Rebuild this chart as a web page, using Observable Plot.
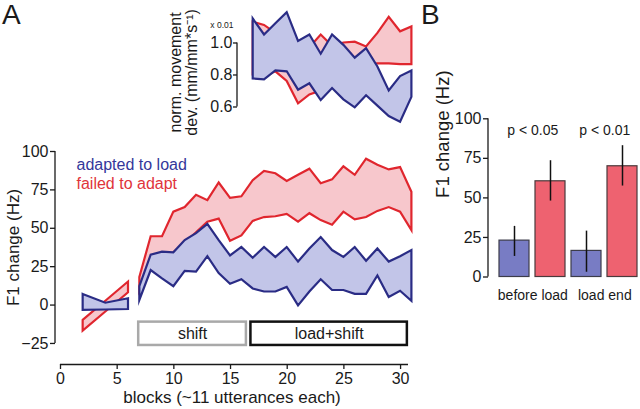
<!DOCTYPE html>
<html>
<head>
<meta charset="utf-8">
<script src="https://cdn.jsdelivr.net/npm/d3@7"></script>
<script src="https://cdn.jsdelivr.net/npm/@observablehq/plot@0.6"></script>
<style>
  html, body { margin: 0; padding: 0; background: #fff; }
  #fig { position: relative; width: 640px; height: 409px; overflow: hidden; background: #fff;
         font-family: "Liberation Sans", Arial, Helvetica, sans-serif; color: #1a1a1a; }
  .letter { position: absolute; font-size: 28px; line-height: 30px; }
</style>
</head>
<body>
<div id="fig">
  <div class="letter" style="left:2px;top:0px">A</div>
  <div class="letter" style="left:421px;top:0px">B</div>
</div>
<script>
// ---------------- data: panel A, F1 change (Hz) ----------------
const baseBlocks = [2, 4, 6];
const baseAdaptedLow  = [-3.5, -3.2, -2.9];
const baseAdaptedHigh = [6.9, 1.2, 4.1];
const baseFailedLow   = [-17, -4.5, 8];
const baseFailedHigh  = [-10, 2.5, 15];

const shiftBlocks = [7, 8, 9, 10, 11, 12, 13, 14, 15, 16, 17, 18, 19, 20, 21, 22, 23, 24, 25, 26, 27, 28, 29, 30, 31];
const adaptedLow  = [3, 22.5, 17, 12, 22, 21.5, 31.5, 20.5, 13.5, 16.5, 10.5, 8.5, 8.5, 11.5, -0.5, 8.5, 16.5, 9.5, 9.5, 7, 7, 19, 5, 9, 2.5];
const adaptedHigh = [12, 32.5, 34.5, 34, 42, 46.5, 52.5, 42, 32, 37.5, 30.5, 37.5, 31, 37.5, 28, 36.5, 44, 35.5, 31, 37.5, 28.5, 36.5, 28, 31.5, 35.5];
const failedLow   = [9, 25, 30, 34, 40, 47, 54, 56, 41.5, 45, 54.5, 57, 57.5, 59, 54, 59.5, 55, 52, 60.5, 55.5, 57, 61, 63.5, 60.5, 48.5];
const failedHigh  = [18, 44.5, 44.5, 60.5, 63.5, 71.5, 68, 79.5, 69.5, 70.5, 81, 87, 85.5, 80.5, 84.5, 88.5, 79, 81.5, 90, 84.5, 95, 91, 88, 89.5, 73.5];

// inset: normalised movement deviation (x 0.01)
const movBlocks = [17, 18, 19, 20, 21, 22, 23, 24, 25, 26, 27, 28, 29, 30, 31];
const movAdaptedLow  = [0.775, 0.77, 0.825, 0.82, 0.705, 0.745, 0.64, 0.715, 0.645, 0.595, 0.67, 0.605, 0.54, 0.505, 0.66];
const movAdaptedHigh = [1.15, 1.05, 1.12, 1.19, 1.01, 1.05, 0.93, 1.05, 0.985, 0.905, 0.965, 0.85, 0.70, 0.79, 0.825];
const movFailedLow   = [0.80, 0.79, 0.82, 0.76, 0.62, 0.675, 0.70, 0.80, 0.82, 0.84, 0.86, 0.87, 0.87, 0.865, 0.865];
const movFailedHigh  = [1.13, 1.11, 1.06, 1.03, 0.99, 0.97, 1.05, 0.98, 1.0, 1.005, 0.975, 1.06, 1.16, 1.07, 1.10];

const phaseNames = ["shift", "load+shift"];
const phaseStart = [6.9, 16.8];
const phaseEnd   = [16.4, 30.6];

const xTicks = [0, 5, 10, 15, 20, 25, 30];
const yTicks = [-25, 0, 25, 50, 75, 100];
const movTicks = [0.6, 0.8, 1.0];

// ---------------- data: panel B ----------------
const barGroups = ["before load", "before load", "load end", "load end"];
const barConds  = ["adapted", "failed", "adapted", "failed"];
const barMeans  = [23, 60.5, 16.5, 70];
const barLows   = [13, 48, 3, 57.5];
const barHighs  = [32, 73.5, 29, 83];
const groupNames = ["before load", "load end"];
const groupP     = ["p < 0.05", "p < 0.01"];
const barTicks   = [0, 25, 50, 75, 100];

// ---------------- styles ----------------
const RED = "#e0262e", RED_FILL = "#f7c7cc";
const BLUE = "#2a2c85", BLUE_FILL = "#c2c5e8";
const BAR_BLUE = "#787cc4", BAR_RED = "#ee6270";
const INK = "#1a1a1a";
const FONT = "'Liberation Sans', Arial, Helvetica, sans-serif";
const baseStyle = {fontFamily: FONT, fontSize: "16px", background: "transparent", color: INK, overflow: "visible"};

function bandRows(blocks, lo, hi, seg) {
  return blocks.map((b, i) => ({block: b, lo: lo[i], hi: hi[i], seg}));
}
const failedRows  = [...bandRows(baseBlocks, baseFailedLow, baseFailedHigh, "baseline"),
                     ...bandRows(shiftBlocks, failedLow, failedHigh, "shift")];
const adaptedRows = [...bandRows(baseBlocks, baseAdaptedLow, baseAdaptedHigh, "baseline"),
                     ...bandRows(shiftBlocks, adaptedLow, adaptedHigh, "shift")];
const phases = phaseNames.map((name, i) => ({name, start: phaseStart[i], end: phaseEnd[i],
  top: -11.1, bottom: -26.3, color: i === 0 ? "#a9a9a9" : "#111"}));

const fig = document.getElementById("fig");
function place(svg, left, top) {
  svg.style.position = "absolute";
  svg.style.left = left + "px";
  svg.style.top = top + "px";
  fig.appendChild(svg);
}

// a detached y-axis line at the frame's left edge, drawn through the plot's own y scale
function yAxisLine(lo, hi) {
  return (index, scales, values, dimensions) => {
    const l = document.createElementNS("http://www.w3.org/2000/svg", "line");
    const x = dimensions.marginLeft;
    l.setAttribute("x1", x); l.setAttribute("x2", x);
    l.setAttribute("y1", scales.y(lo)); l.setAttribute("y2", scales.y(hi));
    l.setAttribute("stroke", INK); l.setAttribute("stroke-width", 1.3);
    return l;
  };
}

// ---------------- main chart ----------------
const X_DOMAIN = [-0.44, 30.7];
const Y_DOMAIN = [-38.7, 100];
const bandStyle = {strokeWidth: 2.2, strokeLinejoin: "miter", strokeMiterlimit: 6};

const main = Plot.plot({
  width: 420, height: 279,
  marginLeft: 55, marginRight: 12, marginTop: 21, marginBottom: 45,
  x: {domain: X_DOMAIN},
  y: {domain: Y_DOMAIN},
  style: baseStyle,
  marks: [
    Plot.areaY(failedRows, {x: "block", y1: "lo", y2: "hi", z: "seg", fill: RED_FILL, stroke: RED, ...bandStyle}),
    Plot.areaY(adaptedRows, {x: "block", y1: "lo", y2: "hi", z: "seg", fill: BLUE_FILL, stroke: BLUE, ...bandStyle}),
    Plot.rect(phases, {x1: "start", x2: "end", y1: "top", y2: "bottom", fill: "white", stroke: "color", strokeWidth: 2.5}),
    Plot.text(phases, {x: d => (d.start + d.end) / 2, y: d => (d.top + d.bottom) / 2, text: "name", fontSize: 16, fill: INK}),
    yAxisLine(yTicks[0], yTicks[yTicks.length - 1]),
    Plot.ruleY([{y: Y_DOMAIN[0], x1: xTicks[0], x2: X_DOMAIN[1]}], {y: "y", x1: "x1", x2: "x2", stroke: INK, strokeWidth: 1.3}),
    Plot.axisY({ticks: yTicks, tickSize: 5, tickPadding: 2, fontSize: 16, label: null, strokeWidth: 1.3}),
    Plot.axisX({ticks: xTicks, tickSize: 5, tickPadding: 3, fontSize: 16, label: null, strokeWidth: 1.3}),
    Plot.text(["F1 change (Hz)"], {x: () => X_DOMAIN[0], y: () => 37.5, dx: -41.5, rotate: -90, fontSize: 17, fill: INK, lineAnchor: "middle"}),
    Plot.text(["blocks (~11 utterances each)"], {frameAnchor: "bottom", dy: 33, lineAnchor: "middle", fontSize: 17, fill: INK}),
    Plot.text(["adapted to load"], {frameAnchor: "top-left", dx: 21, dy: 13, textAnchor: "start", lineAnchor: "middle", fontSize: 16, fill: "#34379a"}),
    Plot.text(["failed to adapt"], {frameAnchor: "top-left", dx: 21, dy: 32.5, textAnchor: "start", lineAnchor: "middle", fontSize: 16, fill: "#e0343b"})
  ]
});
place(main, 0, 130);

// ---------------- inset ----------------
const movFailedRows  = bandRows(movBlocks, movFailedLow, movFailedHigh, "load");
const movAdaptedRows = bandRows(movBlocks, movAdaptedLow, movAdaptedHigh, "load");
const INSET_X = [15.615, 30.7];
const INSET_Y = [0.453, 1.2656];

const inset = Plot.plot({
  width: 420, height: 130,
  marginLeft: 237, marginRight: 12, marginTop: 0, marginBottom: 0,
  x: {domain: INSET_X, axis: null},
  y: {domain: INSET_Y},
  style: baseStyle,
  marks: [
    Plot.areaY(movFailedRows, {x: "block", y1: "lo", y2: "hi", fill: RED_FILL, stroke: RED, ...bandStyle}),
    Plot.areaY(movAdaptedRows, {x: "block", y1: "lo", y2: "hi", fill: BLUE_FILL, stroke: BLUE, ...bandStyle}),
    yAxisLine(movTicks[0], movTicks[movTicks.length - 1]),
    Plot.axisY({ticks: movTicks, tickFormat: ".1f", tickSize: 4, tickPadding: 1, fontSize: 16, label: null, strokeWidth: 1.3}),
    Plot.text(["x 0.01"], {x: () => INSET_X[0], y: () => 1.109, dx: -4, textAnchor: "end", fontSize: 8.5, fill: INK}),
    Plot.text(["norm. movement"], {x: () => INSET_X[0], y: () => 0.816, dx: -62, rotate: -90, fontSize: 16, fill: INK, lineAnchor: "middle"}),
    Plot.text(["dev. (mm/mm*s\u207B\u00B9)"], {x: () => INSET_X[0], y: () => 0.816, dx: -46, rotate: -90, fontSize: 16, fill: INK, lineAnchor: "middle"})
  ]
});
place(inset, 0, 0);

// ---------------- panel B ----------------
const barRows = barMeans.map((m, i) => ({key: barGroups[i] + "|" + barConds[i], group: barGroups[i], cond: barConds[i],
  mean: m, lo: barLows[i], hi: barHighs[i]}));
const barKeys = barRows.map(d => d.key);
const groupRows = groupNames.map((g, i) => ({key: g + "|" + barConds[0], name: g, p: groupP[i]}));
const PAD_INNER = 0.155;
// half of one band step: centre of a pair of bars is one half-step right of the first bar's centre
const halfStep = ((640 - 1) - (420 + 68 + 10)) / (barKeys.length - PAD_INNER) / 2;

const bars = Plot.plot({
  width: 220, height: 260,
  marginLeft: 68, marginRight: 1, marginTop: 58.3, marginBottom: 43.5,
  x: {type: "band", domain: barKeys, paddingInner: PAD_INNER, paddingOuter: 0, insetLeft: 10, axis: null},
  y: {domain: [0, 100]},
  style: baseStyle,
  marks: [
    Plot.barY(barRows.filter(d => d.cond === "adapted"), {x: "key", y: "mean", fill: BAR_BLUE, stroke: "#3c3c4a", strokeWidth: 1.2}),
    Plot.barY(barRows.filter(d => d.cond === "failed"), {x: "key", y: "mean", fill: BAR_RED, stroke: "#4a3a3c", strokeWidth: 1.2}),
    Plot.ruleX(barRows, {x: "key", y1: "lo", y2: "hi", stroke: "#111", strokeWidth: 1.5}),
    yAxisLine(barTicks[0], barTicks[barTicks.length - 1]),
    Plot.axisY({ticks: barTicks, tickSize: 5, tickPadding: 2, fontSize: 16, label: null, strokeWidth: 1.3}),
    Plot.text(groupRows, {x: "key", y: () => 92.5, dx: halfStep, text: "p", fontSize: 14, fill: INK}),
    Plot.text(groupRows, {x: "key", y: () => 0, dx: halfStep, dy: 18.5, text: "name", fontSize: 14, fill: INK, lineAnchor: "middle"}),
    Plot.text(["F1 change (Hz)"], {frameAnchor: "left", y: () => 50, dx: -45, rotate: -90, fontSize: 18.5, fill: INK, lineAnchor: "middle"})
  ]
});
place(bars, 420, 60);
</script>
</body>
</html>
